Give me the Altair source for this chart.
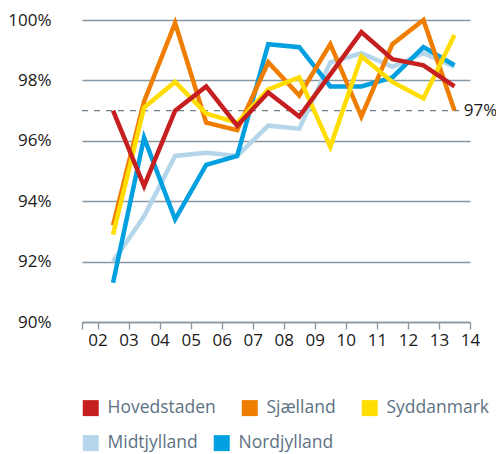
import altair as alt
import pandas as pd

regions = ["Hovedstaden", "Sjælland", "Syddanmark", "Midtjylland", "Nordjylland"]
colors = ["#c5201f", "#ef7d00", "#ffdd00", "#b4d5ea", "#009fdf"]
draw_order = ["Midtjylland", "Nordjylland", "Sjælland", "Syddanmark", "Hovedstaden"]

periods = [2.5, 3.5, 4.5, 5.5, 6.5, 7.5, 8.5, 9.5, 10.5, 11.5, 12.5, 13.5]
hovedstaden = [97.0, 94.5, 97.0, 97.8, 96.5, 97.6, 96.8, 98.2, 99.6, 98.7, 98.5, 97.8]
sjaelland = [93.2, 97.3, 99.9, 96.6, 96.35, 98.6, 97.5, 99.2, 96.8, 99.2, 100.0, 97.0]
syddanmark = [92.9, 97.1, 97.95, 96.9, 96.6, 97.7, 98.1, 95.8, 98.8, 97.95, 97.4, 99.5]
midtjylland = [92.0, 93.5, 95.5, 95.6, 95.5, 96.5, 96.4, 98.6, 98.9, 98.45, 98.9, 98.45]
nordjylland = [91.3, 96.1, 93.4, 95.2, 95.5, 99.2, 99.1, 97.8, 97.8, 98.1, 99.1, 98.5]

x_ticks = [1.5, 2, 3, 4, 5, 6, 7, 8, 9, 10, 11, 12, 13, 14]
y_ticks = [90, 92, 94, 96, 98, 100]
target = 97
target_label = "97%"

series = dict(zip(regions, [hovedstaden, sjaelland, syddanmark, midtjylland, nordjylland]))
rows = []
for r, vals in series.items():
    for x, v in zip(periods, vals):
        rows.append({"region": r, "x": x, "v": v})
df = pd.DataFrame(rows)

# legend split over two rows, as in the original
row1, row2 = regions[:3], regions[3:]
row1_colors, row2_colors = colors[:3], colors[3:]

font = "Open Sans"
grid_col = "#8797a3"
fs = 17

xscale = alt.Scale(domain=[1.5, 14], nice=False, zero=False)
yscale = alt.Scale(domain=[90, 100], nice=False, zero=False)

x_axis = alt.Axis(title=None, values=x_ticks, grid=False, domainColor=grid_col,
                  domainWidth=1.3, tickColor=grid_col, tickWidth=1.3, tickSize=7,
                  labelOverlap=False, labelPadding=3, labelFontSize=fs, labelFont=font,
                  labelColor="#1a1a1a", labelFlush=False,
                  labelExpr="datum.value < 2 ? '' : (datum.value < 10 ? '0' : '') + datum.value")
y_axis = alt.Axis(title=None, values=y_ticks, domain=False, ticks=False, grid=True,
                  gridColor=grid_col, gridWidth=1.3, labelPadding=31, labelOverlap=False,
                  labelFontSize=fs, labelFont=font, labelColor="#1a1a1a",
                  labelExpr="datum.value + '%'")


def make_legend(y, col_pad):
    return alt.Legend(
        title=None, orient="none", legendX=0, legendY=y,
        direction="horizontal", columns=3,
        symbolType="square", symbolSize=256, symbolStrokeWidth=0, symbolOpacity=1,
        labelFontSize=17.5, labelFont=font, labelColor="#5d7183",
        labelOffset=8, columnPadding=col_pad, padding=0,
    )


scale1 = alt.Scale(domain=row1, range=row1_colors)
scale2 = alt.Scale(domain=row2, range=row2_colors)
legend1 = make_legend(379, 25)
legend2 = make_legend(414, 15)

xenc = alt.X("x:Q", scale=xscale, axis=x_axis)
yenc = alt.Y("v:Q", scale=yscale, axis=y_axis)

# legend-only layers (filled squares), draw nothing
leg1 = alt.Chart(df).mark_square(filled=True, opacity=1, size=256).encode(
    x=xenc, y=yenc, color=alt.Color("region:N", scale=scale1, sort=row1, legend=legend1)
).transform_filter("false")
leg2 = alt.Chart(df).mark_square(filled=True, opacity=1, size=256).encode(
    x=xenc, y=yenc, fill=alt.Fill("region:N", scale=scale2, sort=row2, legend=legend2)
).transform_filter("false")

lines = []
for r in draw_order:
    if r in row1:
        enc = dict(color=alt.Color("region:N", scale=scale1, sort=row1, legend=legend1))
    else:
        enc = dict(stroke=alt.Stroke("region:N", scale=scale2, sort=row2, legend=None))
    lines.append(
        alt.Chart(df).mark_line(strokeWidth=4.5, strokeJoin="miter", strokeCap="butt")
        .encode(x=xenc, y=yenc, **enc)
        .transform_filter(alt.datum.region == r)
    )

ref_df = pd.DataFrame({"x": [1.5], "x2": [13.65], "v": [target], "lx": [13.8], "label": [target_label]})
rule = alt.Chart(ref_df).mark_rule(color="#6f7f8b", strokeWidth=1.2, strokeDash=[6, 6]).encode(
    x=alt.X("x:Q", scale=xscale, axis=x_axis), x2="x2:Q", y=alt.Y("v:Q", scale=yscale, axis=y_axis)
)
txt = alt.Chart(ref_df).mark_text(align="left", baseline="middle", dx=0, fontSize=fs,
                                  font=font, color="#1a1a1a").encode(
    x=alt.X("lx:Q", scale=xscale, axis=x_axis), y=alt.Y("v:Q", scale=yscale, axis=y_axis),
    text="label:N"
)

chart = alt.layer(leg1, leg2, rule, *lines, txt).properties(
    width=388, height=302,
    autosize=alt.AutoSizeParams(type="none"),
    padding={"left": 74, "top": 12, "right": 26, "bottom": 132},
).configure_view(stroke=None)

chart.save("out.html", embed_options={"renderer": "svg", "actions": False})
